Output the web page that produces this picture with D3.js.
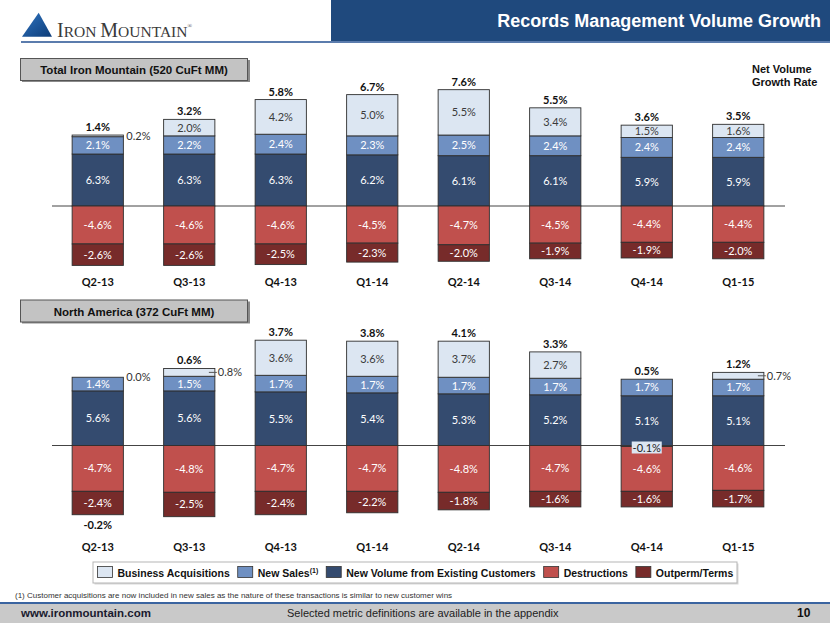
<!DOCTYPE html>
<html>
<head>
<meta charset="utf-8">
<script src="https://cdnjs.cloudflare.com/ajax/libs/d3/7.8.5/d3.min.js"></script>
<style>
body { margin: 0; background: #fff; }
svg { display: block; }
</style>
</head>
<body>
<svg id="slide" width="830" height="623"></svg>
<script>
// quarters shown on both panels
var quarters = ["Q2-13", "Q3-13", "Q4-13", "Q1-14", "Q2-14", "Q3-14", "Q4-14", "Q1-15"];

// Total Iron Mountain (520 CuFt MM)
var totalAcquisitions = [0.2, 2.0, 4.2, 5.0, 5.5, 3.4, 1.5, 1.6];
var totalNewSales     = [2.1, 2.2, 2.4, 2.3, 2.5, 2.4, 2.4, 2.4];
var totalNewVolume    = [6.3, 6.3, 6.3, 6.2, 6.1, 6.1, 5.9, 5.9];
var totalDestructions = [-4.6, -4.6, -4.6, -4.5, -4.7, -4.5, -4.4, -4.4];
var totalOutperm      = [-2.6, -2.6, -2.5, -2.3, -2.0, -1.9, -1.9, -2.0];
var totalNet          = [1.4, 3.2, 5.8, 6.7, 7.6, 5.5, 3.6, 3.5];

// North America (372 CuFt MM)
var naAcquisitions = [0.0, 0.8, 3.6, 3.6, 3.7, 2.7, -0.1, 0.7];
var naNewSales     = [1.4, 1.5, 1.7, 1.7, 1.7, 1.7, 1.7, 1.7];
var naNewVolume    = [5.6, 5.6, 5.5, 5.4, 5.3, 5.2, 5.1, 5.1];
var naDestructions = [-4.7, -4.8, -4.7, -4.7, -4.8, -4.7, -4.6, -4.6];
var naOutperm      = [-2.4, -2.5, -2.4, -2.2, -1.8, -1.6, -1.6, -1.7];
var naNet          = [-0.2, 0.6, 3.7, 3.8, 4.1, 3.3, 0.5, 1.2];

var legendLabels = ["Business Acquisitions", "New Sales", "New Volume from Existing Customers", "Destructions", "Outperm/Terms"];

var svg = d3.select('#slide');
var arial = '"Liberation Sans", Arial, sans-serif';
var calibri = 'Lato, "Open Sans", sans-serif';

var keys = ['newVolume', 'newSales', 'acquisitions', 'destructions', 'outperm'];
var colors = {
	acquisitions: '#dce6f2',
	newSales: '#6f90c2',
	newVolume: '#344b6f',
	destructions: '#c0504d',
	outperm: '#772b2a'
};
var legendKeys = ['acquisitions', 'newSales', 'newVolume', 'destructions', 'outperm'];

// plain hyphen like the slide, not the unicode minus of d3.format
var fmt = function(v) { return v.toFixed(1) + '%'; };

var x = d3.scaleBand()
	.domain(quarters)
	.range([52, 784])
	.paddingInner(0.44)
	.paddingOuter(0.22);
var bw = x.bandwidth();

function buildRows(acq, sales, vol, destr, outp, net) {
	return quarters.map(function(q, i) {
		return {quarter: q, acquisitions: acq[i], newSales: sales[i], newVolume: vol[i],
			destructions: destr[i], outperm: outp[i], net: net[i]};
	});
}

// ---- header ----
svg.append('rect').attr('x', 331).attr('y', 0).attr('width', 499).attr('height', 41).attr('fill', '#1f497d');
svg.append('rect').attr('x', 21).attr('y', 41).attr('width', 809).attr('height', 2).attr('fill', '#5b7cad');

var defs = svg.append('defs');
var grad = defs.append('linearGradient').attr('id', 'logoGrad').attr('x1', 0).attr('y1', 0).attr('x2', 1).attr('y2', 1);
grad.append('stop').attr('offset', '0%').attr('stop-color', '#2f74c0');
grad.append('stop').attr('offset', '100%').attr('stop-color', '#0d3c78');
svg.append('path').attr('d', 'M38.7,12.7 L52,36.7 L22,36.7 Z').attr('fill', 'url(#logoGrad)');

var logo = svg.append('text').attr('x', 57).attr('y', 36.5)
	.style('font-family', '"Liberation Serif", "Times New Roman", serif')
	.attr('fill', '#3a3a3a');
logo.append('tspan').style('font-size', '20px').text('I');
logo.append('tspan').style('font-size', '15.5px').text('RON ');
logo.append('tspan').style('font-size', '20px').text('M');
logo.append('tspan').style('font-size', '15.5px').text('OUNTAIN');
logo.append('tspan').style('font-size', '6px').attr('dy', -9).text('®');

svg.append('text').attr('x', 821).attr('y', 27)
	.attr('text-anchor', 'end')
	.style('font-family', arial).style('font-size', '18px').style('font-weight', 'bold')
	.attr('fill', '#fff')
	.text('Records Management Volume Growth');

var nvg = svg.append('text').style('font-family', arial).style('font-size', '11px')
	.style('font-weight', 'bold').attr('fill', '#111');
nvg.append('tspan').attr('x', 752).attr('y', 73).text('Net Volume');
nvg.append('tspan').attr('x', 752).attr('y', 86).text('Growth Rate');

function panelTitle(y0, label) {
	svg.append('rect').attr('x', 22).attr('y', y0 + 1.5).attr('width', 228).attr('height', 22).attr('fill', '#8a8a8a');
	svg.append('rect').attr('x', 20.5).attr('y', y0).attr('width', 227).attr('height', 22)
		.attr('fill', '#c3c3c3').attr('stroke', '#555').attr('stroke-width', 1);
	svg.append('text').attr('x', 134).attr('y', y0 + 15.5)
		.attr('text-anchor', 'middle')
		.style('font-family', arial).style('font-size', '11.5px').style('font-weight', 'bold')
		.attr('fill', '#111').text(label);
}

// ---- one stacked panel ----
function drawPanel(rows, y, axisY) {
	var g = svg.append('g');
	var series = d3.stack().keys(keys).offset(d3.stackOffsetDiverging)(rows);

	g.append('line')
		.attr('x1', 52).attr('x2', 785)
		.attr('y1', y(0)).attr('y2', y(0))
		.attr('stroke', '#444').attr('stroke-width', 1);

	var layer = g.selectAll('g.layer')
		.data(series)
		.enter().append('g')
		.attr('class', 'layer')
		.attr('fill', function(s) { return colors[s.key]; });

	layer.selectAll('rect')
		.data(function(s) { return s.filter(function(d) { return d.data[s.key] !== 0; }); })
		.enter().append('rect')
		.attr('x', function(d) { return x(d.data.quarter); })
		.attr('y', function(d) { return y(Math.max(d[0], d[1])); })
		.attr('width', bw)
		.attr('height', function(d) { return Math.abs(y(d[0]) - y(d[1])); })
		.attr('stroke', '#2e2e2e')
		.attr('stroke-width', 0.9);

	// values inside the segments
	series.forEach(function(s, si) {
		s.forEach(function(d, i) {
			var v = d.data[s.key];
			var cx = x(d.data.quarter) + bw / 2;
			var cy = (y(d[0]) + y(d[1])) / 2;
			if (v === 0) cy = y(d3.max(series, function(o) { return o[i][1]; }));
			if (Math.abs(v) >= 1) {
				g.append('text').attr('x', cx).attr('y', cy + 4)
					.attr('text-anchor', 'middle')
					.style('font-family', calibri).style('font-size', '11px')
					.attr('fill', s.key === 'acquisitions' ? '#3a3a3a' : '#fff')
					.text(fmt(v));
			} else if (v < 0) {
				// small negative acquisitions sit on the zero line in a box
				g.append('rect').attr('x', cx - 15).attr('y', y(0) - 4).attr('width', 30).attr('height', 12)
					.attr('fill', colors.acquisitions);
				g.append('text').attr('x', cx).attr('y', y(0) + 6)
					.attr('text-anchor', 'middle')
					.style('font-family', calibri).style('font-size', '11px')
					.attr('fill', '#222').text(fmt(v));
			} else {
				var right = x(d.data.quarter) + bw;
				if (Math.abs(y(d[0]) - y(d[1])) > 4) {
					g.append('line').attr('x1', right - 6).attr('x2', right + 2)
						.attr('y1', cy).attr('y2', cy)
						.attr('stroke', '#555').attr('stroke-width', 1);
				}
				g.append('text').attr('x', right + 3).attr('y', cy + 4)
					.style('font-family', calibri).style('font-size', '11px')
					.attr('fill', '#333').text(fmt(v));
			}
		});
	});

	// net growth rate on top (or below when negative)
	rows.forEach(function(r, i) {
		var top = d3.max(series, function(s) { return s[i][1]; });
		var bottom = d3.min(series, function(s) { return s[i][0]; });
		var ty = r.net >= 0 ? y(top) - 4 : y(bottom) + 14;
		g.append('text').attr('x', x(r.quarter) + bw / 2).attr('y', ty)
			.attr('text-anchor', 'middle')
			.style('font-family', calibri).style('font-size', '11px').style('font-weight', 'bold')
			.attr('fill', '#111').text(fmt(r.net));
	});

	var axis = g.append('g')
		.attr('transform', 'translate(0,' + axisY + ')')
		.call(d3.axisBottom(x).tickSize(0).tickPadding(0));
	axis.select('.domain').remove();
	axis.selectAll('text')
		.style('font-family', calibri).style('font-size', '11px').style('font-weight', 'bold')
		.attr('fill', '#111');
}

var yTotal = d3.scaleLinear().domain([-9, 9]).range([206 + 74.25, 206 - 74.25]);
var yNA = d3.scaleLinear().domain([-8, 8]).range([445.5 + 78, 445.5 - 78]);

panelTitle(58.5, 'Total Iron Mountain (520 CuFt MM)');
drawPanel(buildRows(totalAcquisitions, totalNewSales, totalNewVolume, totalDestructions, totalOutperm, totalNet), yTotal, 278);

panelTitle(300, 'North America (372 CuFt MM)');
drawPanel(buildRows(naAcquisitions, naNewSales, naNewVolume, naDestructions, naOutperm, naNet), yNA, 543);

// ---- legend ----
svg.append('rect').attr('x', 94.5).attr('y', 563.5).attr('width', 644).attr('height', 21).attr('fill', '#d8d8d8');
svg.append('rect').attr('x', 93).attr('y', 562).attr('width', 644).attr('height', 21)
	.attr('fill', '#fff').attr('stroke', '#b5b5b5');

var lx = 97.5;
legendKeys.forEach(function(k, i) {
	svg.append('rect').attr('x', lx).attr('y', 566.5).attr('width', 15).attr('height', 11)
		.attr('fill', colors[k]).attr('stroke', '#333').attr('stroke-width', 0.8);
	var t = svg.append('text').attr('x', lx + 20).attr('y', 577)
		.style('font-family', arial).style('font-size', '10.5px').style('font-weight', 'bold')
		.attr('fill', '#111').text(legendLabels[i]);
	if (k === 'newSales') {
		t.append('tspan').attr('dy', -4).style('font-size', '7px').text('(1)');
	}
	lx += 20 + t.node().getComputedTextLength() + 8;
});

// ---- footnote and footer ----
svg.append('text').attr('x', 15).attr('y', 598)
	.style('font-family', arial).style('font-size', '8px').attr('fill', '#333')
	.text('(1) Customer acquisitions are now included in new sales as the nature of these transactions is similar to new customer wins');

svg.append('rect').attr('x', 0).attr('y', 603).attr('width', 830).attr('height', 20).attr('fill', '#c9c9c9');
svg.append('rect').attr('x', 0).attr('y', 602).attr('width', 830).attr('height', 2).attr('fill', '#3a64a0');
svg.append('text').attr('x', 21).attr('y', 617)
	.style('font-family', arial).style('font-size', '11.5px').style('font-weight', 'bold')
	.attr('fill', '#1a1a2e').text('www.ironmountain.com');
svg.append('text').attr('x', 287).attr('y', 617)
	.style('font-family', arial).style('font-size', '11px').attr('fill', '#222')
	.text('Selected metric definitions are available in the appendix');
svg.append('text').attr('x', 797).attr('y', 617)
	.style('font-family', arial).style('font-size', '12px').style('font-weight', 'bold')
	.attr('fill', '#111').text('10');
</script>
</body>
</html>
